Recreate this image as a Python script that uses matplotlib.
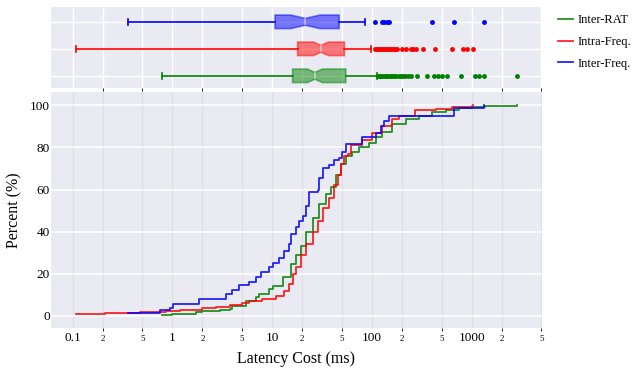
import matplotlib
matplotlib.use('Agg')
import matplotlib.pyplot as plt
from matplotlib.ticker import LogLocator, FuncFormatter, NullFormatter
import numpy as np

plt.rcParams['font.family'] = ['Liberation Serif', 'DejaVu Serif']

labels = ['Inter-RAT', 'Intra-Freq.', 'Inter-Freq.']
colors = ['green', 'red', 'blue']

# CDF curves (latency ms, percent)
rat_x = [0.78, 1.0, 1.74, 2.0, 3.0, 3.75, 4.0, 5.5, 6.9, 7.4, 9.4, 10.1, 12.7, 15.4, 17.3,
         19.4, 21.8, 25.4, 29.5, 34.5, 38.7, 43.4, 48.7, 54.6, 63.7, 74, 93, 110, 127, 160,
         218, 297, 404, 548, 743, 1005, 1370, 2835]
rat_y = [0.5, 0.9, 1.7, 2.3, 2.9, 3.4, 4.7, 7.2, 8.8, 10.4, 13.0, 14.3, 18.3, 24.6, 29,
         33, 40, 46.6, 53, 58, 61, 67, 72, 76, 78, 80, 82, 85, 87.5, 91,
         93.4, 95, 96.6, 97.6, 98.7, 99.3, 99.7, 100]

intra_x = [0.108, 0.21, 0.30, 0.47, 0.87, 1.18, 2.0, 2.75, 3.75, 5.0, 5.9, 8.0, 10.9, 13.2,
           14.9, 16.0, 17.3, 19.4, 21.8, 25.4, 28.5, 32, 37.3, 41.8, 45.2, 48.8, 52.7, 56.9,
           61.6, 80, 101, 127, 160, 187, 273, 434, 637, 1005, 1030]
intra_y = [0.8, 1.4, 1.6, 2.0, 2.4, 2.8, 3.6, 4.4, 5.3, 6.0, 6.9, 8.0, 9.6, 12,
           15, 20, 23, 29, 34, 40, 45, 51, 56, 62, 67, 72, 76, 77,
           81, 83.5, 86.7, 90, 93.4, 95, 97.6, 98.2, 99.2, 99.6, 100]

inter_x = [0.36, 0.75, 0.94, 1.01, 1.87, 3.46, 4.0, 4.7, 5.9, 6.9, 7.7, 9.4, 10.1, 11.8,
           13.2, 14.9, 15.4, 17.3, 18.7, 20.2, 21.8, 23.5, 28.5, 29.5, 32, 37.3, 41.8, 47,
           50.5, 54.6, 80, 109, 122, 132, 148, 661, 1318]
inter_y = [1.6, 2.8, 3.6, 5.5, 8.1, 10.6, 12.2, 14.5, 16, 18.4, 21, 23, 25, 27.7,
           31, 34, 38.7, 42, 45, 47.4, 52, 59, 60, 65.4, 70, 71.8, 74, 75,
           78, 81.6, 85, 87, 90, 92.3, 95, 98.9, 100]

# box statistics (same order as labels)
box_whislo = [0.78, 0.108, 0.36]
box_q1 = [16.0, 18.0, 10.7]
box_med = [26.8, 30.8, 21.5]
box_q3 = [54.7, 53.0, 46.9]
box_whishi = [112, 97.3, 84.7]
box_cilo = [22.6, 26.0, 15.4]
box_cihi = [31.9, 36.7, 30.1]
rat_fliers = [114, 118, 122, 127, 131, 137, 142, 148, 155, 160, 168, 176, 185, 195, 205,
              215, 230, 244, 284, 353, 417, 459, 504, 566, 780, 1087, 1170, 1318, 2835]
intra_fliers = [108, 112, 116, 120, 125, 130, 135, 140, 146, 152, 158, 165, 172, 178,
                199, 221, 244, 259, 274, 326, 424, 633, 823, 887, 1030]
inter_fliers = [107, 126, 133, 140, 148, 401, 661, 1318]

cdf_x = [rat_x, intra_x, inter_x]
cdf_y = [rat_y, intra_y, inter_y]
fliers = [rat_fliers, intra_fliers, inter_fliers]

bg = '#EAEAF2'
fig = plt.figure(figsize=(6.33, 3.68), dpi=100)
ax_box = fig.add_axes([0.0806, 0.761, 0.7755, 0.22])
ax = fig.add_axes([0.0806, 0.109, 0.7755, 0.641])

for a in (ax_box, ax):
    a.set_facecolor(bg)
    for s in a.spines.values():
        s.set_visible(False)
    a.tick_params(length=0)
    a.set_xscale('log')
    a.set_xlim(0.0608, 5050)
    a.xaxis.set_major_locator(LogLocator(base=10, numticks=20))
    a.xaxis.set_minor_locator(LogLocator(base=10, subs=(2, 5), numticks=20))
    a.set_axisbelow(True)

# box panel
stats = []
for i in range(3):
    stats.append(dict(whislo=box_whislo[i], q1=box_q1[i], med=box_med[i], q3=box_q3[i],
                      whishi=box_whishi[i], cilo=box_cilo[i], cihi=box_cihi[i],
                      fliers=fliers[i], label=labels[i]))
for i in range(3):
    c = colors[i]
    ax_box.bxp([stats[i]], positions=[i + 1], widths=0.5, orientation='horizontal',
               shownotches=True, patch_artist=True, capwidths=0.2,
               boxprops=dict(facecolor=c, edgecolor=c, alpha=0.5, lw=1.2),
               medianprops=dict(color='white', alpha=0.5, lw=1.2),
               whiskerprops=dict(color=c, lw=1.2),
               capprops=dict(color=c, lw=1.2),
               flierprops=dict(marker='o', markerfacecolor=c, markeredgecolor='none',
                               markersize=3.5))
ax_box.set_ylim(0.55, 3.55)
ax_box.set_yticks([1, 2, 3])
ax_box.set_yticklabels([])
ax_box.xaxis.set_major_formatter(NullFormatter())
ax_box.xaxis.set_minor_formatter(NullFormatter())
ax_box.grid(True, which='both', axis='x', color='white', lw=1)
ax_box.grid(True, which='major', axis='y', color='white', lw=1)

# CDF panel
for i in range(3):
    ax.step(cdf_x[i], cdf_y[i], where='post', color=colors[i], lw=1.3, alpha=0.85,
            label=labels[i])
ax.set_ylim(-5.7, 106.3)
ax.set_yticks([0, 20, 40, 60, 80, 100])
ax.grid(True, which='major', axis='y', color='white', lw=1.1)
ax.grid(True, which='both', axis='x', color='#dedee4', lw=1)


def major_fmt(v, pos):
    return '{:g}'.format(v)


def minor_fmt(v, pos):
    m = v / 10 ** np.floor(np.log10(v) + 1e-9)
    return '{:d}'.format(int(round(m)))


ax.xaxis.set_major_formatter(FuncFormatter(major_fmt))
ax.xaxis.set_minor_formatter(FuncFormatter(minor_fmt))
ax.tick_params(axis='x', which='major', labelsize=9.5, pad=3)
ax.tick_params(axis='x', which='minor', labelsize=6.5, pad=3)
ax.tick_params(axis='y', labelsize=9.5, pad=1)
ax.set_xlabel('Latency Cost (ms)', fontsize=11.5, labelpad=5)
ax.set_ylabel('Percent (%)', fontsize=11.5, labelpad=5)

fig.legend(*ax.get_legend_handles_labels(), loc='upper left', bbox_to_anchor=(0.874, 0.975),
           frameon=False, fontsize=9, handlelength=1.2, labelspacing=0.78,
           handletextpad=0.35, borderaxespad=0)

fig.savefig('out.png', dpi=100)
